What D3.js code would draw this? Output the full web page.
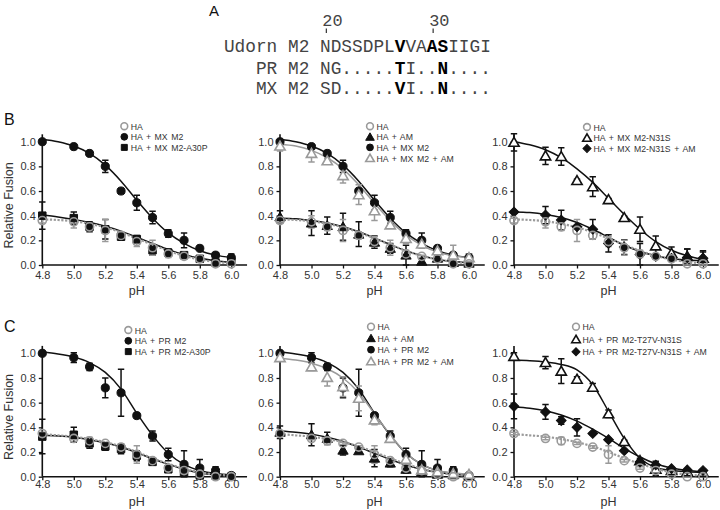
<!DOCTYPE html>
<html><head><meta charset="utf-8">
<script src="https://cdn.jsdelivr.net/npm/d3@7"></script>
<style>
body{margin:0;background:#fff;}
svg{display:block;font-family:"Liberation Sans",Arial,sans-serif;}
</style></head>
<body>
<svg id="c" width="720" height="510"></svg>
<script>
// ---------- DATA ----------
const pH = [4.8,5.0,5.1,5.2,5.3,5.4,5.5,5.6,5.7,5.8,5.9,6.0];
const fitPH = [4.8,4.9,5.0,5.1,5.2,5.3,5.4,5.5,5.6,5.7,5.8,5.9,6.0];
const xTicks = [4.8,5.0,5.2,5.4,5.6,5.8,6.0];
const yTicks = [0.0,0.2,0.4,0.6,0.8,1.0];

// Panel A sequences
const seqNames = ["Udorn M2","PR M2","MX M2"];
const seqs = ["NDSSDPLVVAASIIGI","NG.....TI..N....","SD.....VI..N...."];
const seqBold = [[7,10,11],[7,11],[7,11]];
const seqNumbers = [20,30];
const seqNumberIdx = [0,10];

// Row B (MX M2)
const haB = [0.36,0.35,0.31,0.28,0.24,0.19,0.14,0.09,0.07,0.05,0.01,0.01];
const haBErr = [0.02,0.05,0.03,0.09,0.03,0.04,0.06,0.03,0.01,0.01,0.01,0.01];
const haBFit = [0.37,0.365,0.355,0.335,0.305,0.265,0.215,0.165,0.115,0.075,0.045,0.025,0.015];

const mxM2 = [1.0,0.96,0.905,0.80,0.60,0.505,0.385,0.255,0.20,0.135,0.08,0.06];
const mxM2Err = [0.01,0.01,0.01,0.05,0.01,0.06,0.05,0.03,0.06,0.01,0.02,0.03];
const mxM2Fit = [1.02,1.0,0.965,0.905,0.81,0.68,0.525,0.38,0.26,0.175,0.115,0.08,0.06];

const mxA30P = [0.40,0.38,0.31,0.29,0.23,0.21,0.12,0.10,0.08,0.05,0.02,0.03];
const mxA30PErr = [0.11,0.05,0.04,0.08,0.03,0.03,0.04,0.03,0.02,0.01,0.02,0.02];
const mxA30PFit = [0.405,0.39,0.37,0.345,0.315,0.275,0.225,0.175,0.125,0.085,0.055,0.035,0.02];

const amB = [0.39,0.34,0.32,0.31,0.25,0.185,0.135,0.08,0.03,0.055,0.02,0.015];
const amBErr = [0.05,0.10,0.07,0.11,0.10,0.05,0.04,0.08,0.02,0.02,0.01,0.01];
const amBFit = [0.38,0.375,0.36,0.34,0.31,0.27,0.22,0.165,0.115,0.075,0.045,0.028,0.018];

const mxM2AM = [0.965,0.905,0.845,0.725,0.57,0.44,0.325,0.215,0.17,0.115,0.08,0.06];
const mxM2AMErr = [0.04,0.07,0.02,0.06,0.08,0.08,0.02,0.04,0.03,0.02,0.08,0.03];
const mxM2AMFit = [0.98,0.965,0.93,0.87,0.78,0.65,0.50,0.36,0.245,0.16,0.105,0.075,0.06];

const n31S = [0.995,0.885,0.88,0.685,0.635,0.53,0.385,0.29,0.155,0.095,0.07,0.055];
const n31SErr = [0.07,0.07,0.07,0.01,0.08,0.01,0.01,0.10,0.08,0.05,0.06,0.05];
const n31SFit = [1.0,0.975,0.935,0.87,0.78,0.67,0.54,0.41,0.29,0.19,0.12,0.075,0.045];

const n31SAM = [0.43,0.405,0.365,0.31,0.29,0.175,0.145,0.085,0.07,0.055,0.06,0.055];
const n31SAMErr = [0.01,0.07,0.08,0.01,0.08,0.07,0.06,0.09,0.02,0.02,0.07,0.06];
const n31SAMFit = [0.43,0.425,0.41,0.385,0.345,0.29,0.225,0.16,0.11,0.075,0.05,0.04,0.035];

// Row C (PR M2)
const haC = [0.35,0.31,0.29,0.27,0.24,0.18,0.13,0.07,0.05,0.02,0.0,0.0];
const haCErr = [0.01,0.01,0.03,0.01,0.01,0.07,0.01,0.01,0.01,0.01,0.01,0.01];
const haCFit = [0.345,0.335,0.325,0.305,0.28,0.245,0.2,0.15,0.105,0.065,0.035,0.018,0.008];

const prM2 = [1.0,0.965,0.89,0.72,0.68,0.495,0.33,0.18,0.10,0.07,0.05,0.01];
const prM2Err = [0.01,0.04,0.03,0.08,0.19,0.02,0.04,0.05,0.11,0.07,0.03,0.01];
const prM2Fit = [1.01,0.995,0.97,0.925,0.845,0.71,0.515,0.335,0.19,0.10,0.05,0.025,0.015];

const prA30P = [0.325,0.34,0.27,0.245,0.225,0.17,0.12,0.06,0.03,0.01,0.01,0.0];
const prA30PErr = [0.14,0.06,0.04,0.03,0.04,0.04,0.01,0.01,0.01,0.01,0.01,0.01];
const prA30PFit = [0.335,0.33,0.32,0.30,0.275,0.24,0.195,0.145,0.10,0.06,0.03,0.015,0.005];

const amC = [0.36,0.34,0.31,0.215,0.21,0.15,0.11,0.06,0.04,0.02,0.015,0.01];
const amCErr = [0.05,0.09,0.05,0.04,0.02,0.07,0.03,0.03,0.03,0.01,0.01,0.01];
const amCFit = [0.37,0.36,0.345,0.32,0.285,0.24,0.19,0.14,0.095,0.06,0.035,0.02,0.012];

const prM2AM = [0.965,0.89,0.805,0.73,0.635,0.46,0.31,0.14,0.055,0.04,0.025,0.02];
const prM2AMErr = [0.01,0.03,0.07,0.08,0.10,0.04,0.02,0.03,0.02,0.01,0.01,0.01];
const prM2AMFit = [0.96,0.945,0.92,0.875,0.80,0.68,0.51,0.34,0.19,0.10,0.05,0.03,0.02];

const tvN31S = [0.975,0.925,0.855,0.79,0.725,0.51,0.285,0.13,0.06,0.05,0.04,0.035];
const tvN31SErr = [0.03,0.05,0.10,0.02,0.03,0.03,0.01,0.02,0.05,0.01,0.01,0.01];
const tvN31SFit = [0.945,0.94,0.93,0.91,0.865,0.745,0.53,0.31,0.15,0.075,0.05,0.04,0.035];

const tvN31SAM = [0.57,0.525,0.455,0.40,0.35,0.30,0.21,0.12,0.095,0.065,0.055,0.05];
const tvN31SAMErr = [0.10,0.06,0.03,0.07,0.01,0.01,0.01,0.02,0.03,0.01,0.01,0.01];
const tvN31SAMFit = [0.565,0.555,0.535,0.50,0.45,0.385,0.31,0.23,0.16,0.105,0.07,0.05,0.04];

// ---------- STYLES / LAYOUT ----------
const BLACK = "#111", GRAY = "#9a9a9a";
const sty = {
  haOpen:  {shape:"circle",  color:GRAY,  fill:"none",  dash:"2.2,1.6", lw:2.2},
  blkCirc: {shape:"circle",  color:BLACK, fill:BLACK,   dash:null, lw:1.5},
  blkSq:   {shape:"square",  color:BLACK, fill:BLACK,   dash:null, lw:1.5},
  blkTri:  {shape:"triangle",color:BLACK, fill:BLACK,   dash:null, lw:1.5},
  grayTri: {shape:"triangle",color:GRAY,  fill:"#fff",  dash:null, lw:1.5},
  openTri: {shape:"triangle",color:BLACK, fill:"#fff",  dash:null, lw:1.5},
  blkDia:  {shape:"diamond", color:BLACK, fill:BLACK,   dash:null, lw:1.5}
};
function S(label, vals, err, fit, st){ return {label, vals, err, fit, st}; }

const panels = [
  {row:0, col:0, leg:[82,126.2,10.6], series:[
    S("HA",haB,haBErr,haBFit,sty.haOpen),
    S("HA + MX M2",mxM2,mxM2Err,mxM2Fit,sty.blkCirc),
    S("HA + MX M2-A30P",mxA30P,mxA30PErr,mxA30PFit,sty.blkSq)]},
  {row:0, col:1, leg:[90,126.2,10.6], series:[
    S("HA",haB,haBErr,haBFit,sty.haOpen),
    S("HA + AM",amB,amBErr,amBFit,sty.blkTri),
    S("HA + MX M2",mxM2,mxM2Err,mxM2Fit,sty.blkCirc),
    S("HA + MX M2 + AM",mxM2AM,mxM2AMErr,mxM2AMFit,sty.grayTri)]},
  {row:0, col:2, leg:[73,127,10.8], series:[
    S("HA",haB,haBErr,haBFit,sty.haOpen),
    S("HA + MX M2-N31S",n31S,n31SErr,n31SFit,sty.openTri),
    S("HA + MX M2-N31S + AM",n31SAM,n31SAMErr,n31SAMFit,sty.blkDia)]},
  {row:1, col:0, leg:[86,330,10.8], series:[
    S("HA",haC,haCErr,haCFit,sty.haOpen),
    S("HA + PR M2",prM2,prM2Err,prM2Fit,sty.blkCirc),
    S("HA + PR M2-A30P",prA30P,prA30PErr,prA30PFit,sty.blkSq)]},
  {row:1, col:1, leg:[91,326.7,11.5], series:[
    S("HA",haC,haCErr,haCFit,sty.haOpen),
    S("HA + AM",amC,amCErr,amCFit,sty.blkTri),
    S("HA + PR M2",prM2,prM2Err,prM2Fit,sty.blkCirc),
    S("HA + PR M2 + AM",prM2AM,prM2AMErr,prM2AMFit,sty.grayTri)]},
  {row:1, col:2, leg:[62,326.7,12.5], series:[
    S("HA",haC,haCErr,haCFit,sty.haOpen),
    S("HA + PR M2-T27V-N31S",tvN31S,tvN31SErr,tvN31SFit,sty.openTri),
    S("HA + PR M2-T27V-N31S + AM",tvN31SAM,tvN31SAMErr,tvN31SAMFit,sty.blkDia)]}
];

const colX0 = [42.3, 280, 514];
const xSpan = 189;
const rows = [
  {y1:141.7, y0:265, lab:"B", labY:125, tickDy:16.5, pHDy:30},
  {y1:353.3, y0:476.7, lab:"C", labY:332, tickDy:14, pHDy:29}
];

const svg = d3.select("#c");

// ---------- Panel A ----------
(function(){
  const fs = 17.8, cw = fs*0.6;
  const seqX = 320;
  const rowY = [52, 74, 94];
  svg.append("text").attr("x",209).attr("y",16).attr("font-size",15).attr("fill","#111").text("A");
  const g = svg.append("g").attr("font-family","'Liberation Mono','DejaVu Sans Mono',monospace").attr("font-size",fs);
  seqNumbers.forEach((n,i)=>{
    const cx = seqX + seqNumberIdx[i]*cw + cw/2;
    g.append("text").attr("x",cx-3).attr("y",26).attr("fill","#444").attr("font-size",fs*0.95).text(n);
    g.append("line").attr("x1",cx+1).attr("x2",cx+1).attr("y1",28.5).attr("y2",33).attr("stroke","#333").attr("stroke-width",1.2);
  });
  seqs.forEach((s,r)=>{
    g.append("text").attr("x",seqX - cw).attr("y",rowY[r]).attr("text-anchor","end").attr("fill","#444").text(seqNames[r]);
    const t = g.append("text").attr("x",seqX).attr("y",rowY[r]).attr("fill","#444");
    s.split("").forEach((ch,i)=>{
      const b = seqBold[r].includes(i);
      t.append("tspan").attr("x",seqX+i*cw).attr("font-weight",b?"bold":"normal").attr("fill",b?"#000":"#444").text(ch);
    });
  });
})();

// ---------- symbol helper ----------
function sym(shape, size){
  if(shape==="circle") return d3.symbol(d3.symbolCircle, size)();
  if(shape==="square") return d3.symbol(d3.symbolSquare, size)();
  if(shape==="triangle") return d3.symbol(d3.symbolTriangle, size)();
  if(shape==="diamond") return d3.symbol(d3.symbolSquare, size*0.85)();
}
function drawMark(g, shape, x, y, size, st){
  return g.append("path").attr("d", sym(shape,size))
    .attr("transform", `translate(${x},${y})` + (shape==="diamond"?" rotate(45)":"") + (shape==="triangle"?" translate(0,1)":""))
    .attr("fill", st.fill).attr("stroke", st.color).attr("stroke-width", st.fill==="none"||st.fill==="#fff"?1.6:1);
}

// ---------- Panels B, C ----------
panels.forEach(P=>{
  const R = rows[P.row], x0 = colX0[P.col];
  const x = d3.scaleLinear().domain([4.8,6.0]).range([x0, x0+xSpan]);
  const y = d3.scaleLinear().domain([0,1]).range([R.y0, R.y1]);
  const g = svg.append("g");

  // axes
  const xAxis = d3.axisBottom(x).tickValues(xTicks).tickFormat(d3.format(".1f")).tickSize(3.5).tickSizeOuter(0);
  const gx = g.append("g").attr("transform",`translate(0,${R.y0})`).call(xAxis);
  gx.select(".domain").attr("d",`M${x0},0H${x(6.1)}`).attr("stroke","#111").attr("stroke-width",1.6);
  gx.selectAll(".tick line").attr("stroke","#111").attr("stroke-width",1.3);
  gx.selectAll(".tick text").attr("font-size",11).attr("fill","#333").attr("font-family","'Liberation Sans',Arial,sans-serif").attr("y",R.tickDy-10).attr("dy","0.71em");
  const yAxis = d3.axisLeft(y).tickValues(yTicks).tickFormat(d3.format(".1f")).tickSize(3.5).tickSizeOuter(0);
  const gy = g.append("g").attr("transform",`translate(${x0},0)`).call(yAxis);
  gy.select(".domain").attr("d",`M0,${R.y0}V${y(1.06)}`).attr("stroke","#111").attr("stroke-width",1.6);
  gy.selectAll(".tick line").attr("stroke","#111").attr("stroke-width",1.3);
  gy.selectAll(".tick text").attr("font-size",11).attr("fill","#333").attr("font-family","'Liberation Sans',Arial,sans-serif").attr("x",-6.5);

  g.append("text").attr("x",x(5.4)).attr("y",R.y0+R.pHDy).attr("text-anchor","middle").attr("font-size",12.5).attr("fill","#333").text("pH");
  if(P.col===0){
    g.append("text").attr("transform",`translate(12.5,${y(0.5)+2}) rotate(-90)`).attr("text-anchor","middle").attr("font-size",12.5).attr("fill","#333").text("Relative Fusion");
    svg.append("text").attr("x",4).attr("y",R.labY).attr("font-size",16).attr("fill","#111").text(R.lab);
  }

  // fit curves
  const line = d3.line().x((d,i)=>x(fitPH[i])).y(d=>y(d)).curve(d3.curveMonotoneX);
  const order = P.series.slice(1).concat([P.series[0]]);
  order.forEach(s=>{
    g.append("path").attr("d", line(s.fit)).attr("fill","none").attr("stroke", s.st.color)
      .attr("stroke-width", s.st.lw).attr("stroke-dasharray", s.st.dash);
  });
  // error bars
  order.forEach(s=>{
    s.vals.forEach((v,i)=>{
      const cx = x(pH[i]), e = s.err[i];
      const yt = y(v+e), yb = y(Math.max(0,v-e));
      g.append("path").attr("d",`M${cx},${yt}V${yb}M${cx-3.2},${yt}H${cx+3.2}M${cx-3.2},${yb}H${cx+3.2}`)
        .attr("stroke", s.st.color).attr("stroke-width",1.5).attr("fill","none");
    });
  });
  // markers
  order.forEach(s=>{
    s.vals.forEach((v,i)=>{
      const sz = s.st.shape==="circle"?52: s.st.shape==="square"?56: s.st.shape==="triangle"?46:56;
      drawMark(g, s.st.shape, x(pH[i]), y(v), sz, s.st);
    });
  });

  // legend
  const [lx, ly, lsp] = P.leg;
  P.series.forEach((s,i)=>{
    const yy = ly + i*lsp;
    const sz = s.st.shape==="circle"?36: s.st.shape==="square"?36: s.st.shape==="triangle"?32:38;
    drawMark(svg, s.st.shape, x0+lx, yy, sz, s.st);
    svg.append("text").attr("transform",`translate(${x0+lx+6.5},${yy+3.5}) scale(0.88,1)`)
      .attr("font-size",9.9).attr("fill","#333").attr("word-spacing",1.3).text(s.label);
  });
});
</script>
</body></html>
